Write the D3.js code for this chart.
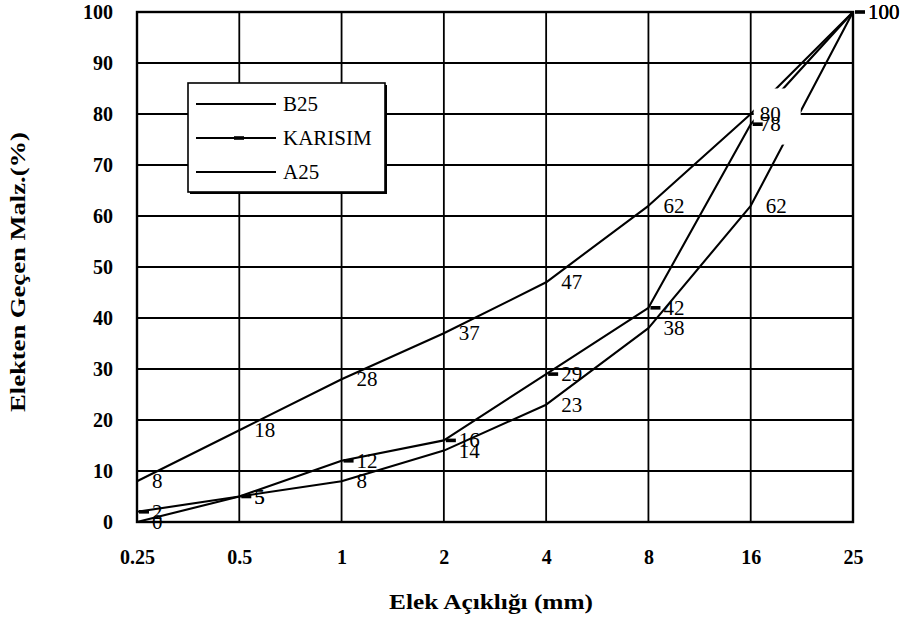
<!DOCTYPE html>
<html>
<head>
<meta charset="utf-8">
<script src="https://cdn.jsdelivr.net/npm/d3@7"></script>
<style>
  html, body { margin: 0; padding: 0; background: #fff; }
  svg { display: block; }
</style>
</head>
<body>
<svg id="chart" width="904" height="622"></svg>
<script>
// ---- data ----
const categories = ["0.25", "0.5", "1", "2", "4", "8", "16", "25"];
const b25Values = [8, 18, 28, 37, 47, 62, 80, 100];
const karisimValues = [2, 5, 12, 16, 29, 42, 78, 100];
const a25Values = [0, 5, 8, 14, 23, 38, 62, 100];
const yTickValues = [0, 10, 20, 30, 40, 50, 60, 70, 80, 90, 100];
const seriesNames = ["B25", "KARISIM", "A25"];
const xTitle = "Elek Açıklığı (mm)";
const yTitle = "Elekten Geçen Malz.(%)";

const series = [
  { name: seriesNames[0], values: b25Values, marker: false },
  { name: seriesNames[1], values: karisimValues, marker: true },
  { name: seriesNames[2], values: a25Values, marker: false }
];

const SERIF = "'Liberation Serif', 'Times New Roman', 'DejaVu Serif', serif";

// ---- layout ----
const pLeft = 137, pRight = 853, pTop = 12, pBottom = 522;
const svg = d3.select("#chart");

const x = d3.scalePoint().domain(categories).range([pLeft, pRight]);
const y = d3.scaleLinear().domain([0, 100]).range([pBottom, pTop]);

// gridlines
const grid = svg.append("g");
grid.selectAll("line.h").data(yTickValues).join("line").attr("class", "h")
  .attr("x1", pLeft).attr("x2", pRight)
  .attr("y1", d => y(d)).attr("y2", d => y(d))
  .attr("stroke", "#000").attr("stroke-width", 1.8);
grid.selectAll("line.v").data(categories).join("line").attr("class", "v")
  .attr("x1", d => x(d)).attr("x2", d => x(d))
  .attr("y1", pTop).attr("y2", pBottom)
  .attr("stroke", "#000").attr("stroke-width", 1.8);

// plot border
svg.append("rect")
  .attr("x", pLeft).attr("y", pTop)
  .attr("width", pRight - pLeft).attr("height", pBottom - pTop)
  .attr("fill", "none").attr("stroke", "#000").attr("stroke-width", 2.4);

// axes (tick labels only, via d3 axes)
const yAxis = svg.append("g")
  .attr("transform", `translate(${pLeft - 24},0)`)
  .call(d3.axisLeft(y).tickValues(yTickValues).tickSize(0).tickPadding(0).tickFormat(d3.format("d")));
yAxis.attr("font-family", null).attr("font-size", null);
yAxis.select(".domain").remove();
yAxis.selectAll("text")
  .style("font-family", SERIF)
  .style("font-weight", "bold").style("font-size", "20px").attr("fill", "#000");

const xAxis = svg.append("g")
  .attr("transform", `translate(0,${pBottom + 28})`)
  .call(d3.axisBottom(x).tickSize(0).tickPadding(0));
xAxis.attr("font-family", null).attr("font-size", null);
xAxis.select(".domain").remove();
xAxis.selectAll("text")
  .style("font-family", SERIF)
  .style("font-weight", "bold").style("font-size", "20px").attr("fill", "#000");

// lines
const line = d3.line()
  .x((d, i) => x(categories[i]))
  .y(d => y(d));

svg.append("g").selectAll("path").data(series).join("path")
  .attr("d", s => line(s.values))
  .attr("fill", "none").attr("stroke", "#000").attr("stroke-width", 2.1)
  .attr("stroke-linejoin", "round");

// white label box at the 16 mm labels (hides lines under it as in the original)
svg.append("rect")
  .attr("x", x("16") + 3).attr("y", y(85))
  .attr("width", 47).attr("height", y(74) - y(85))
  .attr("fill", "#fff");

// KARISIM markers
const mk = series.find(s => s.marker);
svg.append("g").selectAll("rect").data(mk.values).join("rect")
  .attr("x", (d, i) => x(categories[i]) + 2)
  .attr("y", d => y(d) - 1.8)
  .attr("width", 10).attr("height", 3.6)
  .attr("fill", "#000");

// data labels
const labelData = [];
series.forEach(s => s.values.forEach((v, i) => labelData.push({ cat: categories[i], v })));
svg.append("g").selectAll("text").data(labelData).join("text")
  .attr("x", d => x(d.cat) + (d.cat === "16" && d.v > 70 ? 9 : 15))
  .attr("y", d => y(d.v))
  .attr("dominant-baseline", "central")
  .style("font-family", SERIF)
  .style("font-size", "21px")
  .attr("fill", "#000")
  .text(d => d.v);

// legend
const lg = svg.append("g");
lg.append("rect").attr("x", 190).attr("y", 85).attr("width", 197).attr("height", 109).attr("fill", "#000");
lg.append("rect").attr("x", 188).attr("y", 83).attr("width", 197).attr("height", 109)
  .attr("fill", "#fff").attr("stroke", "#000").attr("stroke-width", 1.6);
const legendY = d3.scalePoint().domain(seriesNames).range([104, 172]);
series.forEach(s => {
  const ly = legendY(s.name);
  lg.append("line").attr("x1", 196).attr("x2", 276).attr("y1", ly).attr("y2", ly)
    .attr("stroke", "#000").attr("stroke-width", 2);
  if (s.marker) {
    lg.append("rect").attr("x", 234).attr("y", ly - 1.8).attr("width", 10).attr("height", 3.6).attr("fill", "#000");
  }
  lg.append("text").attr("x", 283).attr("y", ly).attr("dominant-baseline", "central")
    .style("font-family", SERIF)
    .style("font-size", "21px").attr("fill", "#000").text(s.name);
});

// axis titles
svg.append("text")
  .attr("x", 491).attr("y", 601)
  .attr("text-anchor", "middle").attr("dominant-baseline", "central")
  .style("font-family", SERIF)
  .style("font-weight", "bold").style("font-size", "22px")
  .attr("textLength", 204).attr("lengthAdjust", "spacingAndGlyphs")
  .text(xTitle);

svg.append("text")
  .attr("transform", "translate(17,272) rotate(-90)")
  .attr("text-anchor", "middle").attr("dominant-baseline", "central")
  .style("font-family", SERIF)
  .style("font-weight", "bold").style("font-size", "22px")
  .attr("textLength", 280).attr("lengthAdjust", "spacingAndGlyphs")
  .text(yTitle);
</script>
</body>
</html>
